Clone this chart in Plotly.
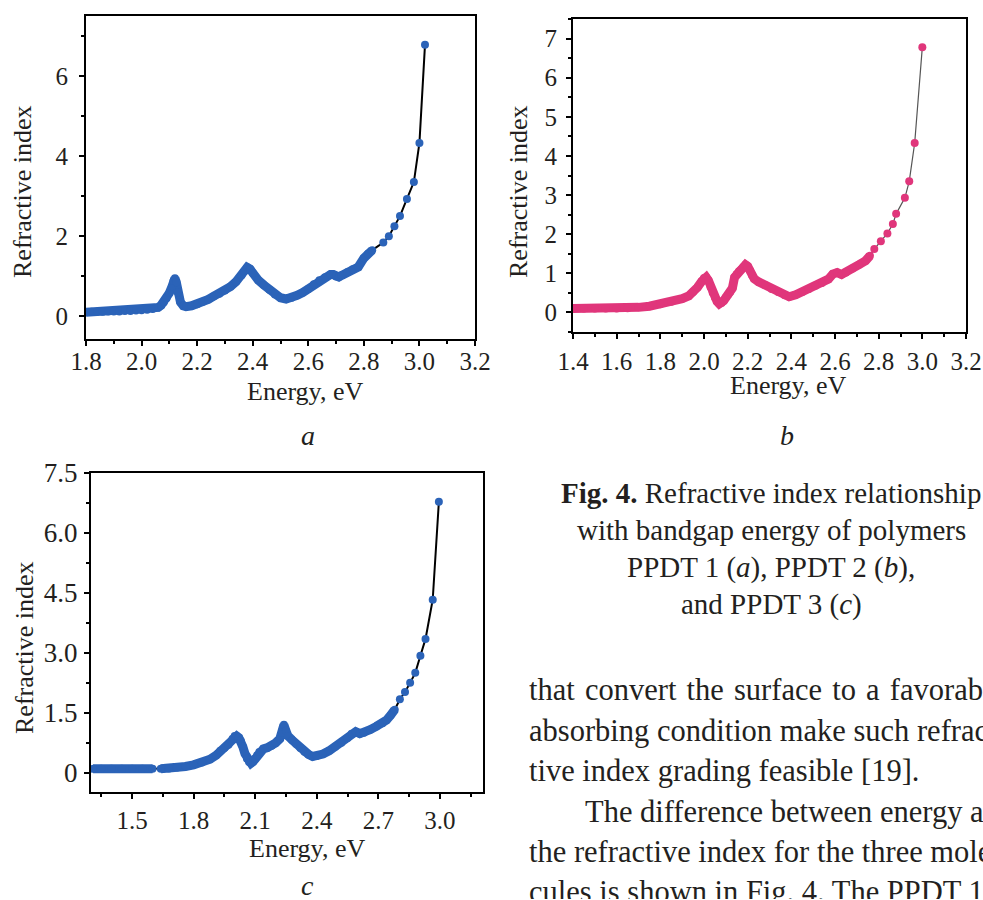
import plotly.graph_objects as go

# ---------------- data ----------------
energy_a = [1.80, 1.82, 1.84, 1.86, 1.88, 1.90, 1.92, 1.94, 1.96, 1.98,
            2.00, 2.02, 2.04, 2.06, 2.07, 2.08, 2.09, 2.10, 2.11, 2.115,
            2.12, 2.125, 2.13, 2.14, 2.15, 2.16, 2.18, 2.20, 2.22, 2.24,
            2.26, 2.28, 2.30, 2.32, 2.34, 2.36, 2.37, 2.38, 2.39, 2.40,
            2.42, 2.44, 2.46, 2.48, 2.50, 2.52, 2.54, 2.56, 2.58, 2.60,
            2.62, 2.64, 2.66, 2.68, 2.69, 2.70, 2.71, 2.72, 2.74, 2.76,
            2.78, 2.80, 2.815, 2.83, 2.87, 2.89, 2.91, 2.93, 2.955, 2.98,
            3.00, 3.02]
index_a = [0.10, 0.11, 0.11, 0.11, 0.12, 0.12, 0.12, 0.13, 0.13, 0.14,
           0.15, 0.16, 0.18, 0.22, 0.27, 0.35, 0.45, 0.58, 0.75, 0.88,
           0.95, 0.85, 0.60, 0.35, 0.26, 0.24, 0.26, 0.30, 0.36, 0.42,
           0.50, 0.56, 0.64, 0.74, 0.86, 1.02, 1.12, 1.22, 1.18, 1.08,
           0.90, 0.78, 0.66, 0.54, 0.46, 0.43, 0.46, 0.52, 0.59, 0.68,
           0.80, 0.90, 0.97, 1.04, 1.04, 0.99, 0.98, 1.02, 1.10, 1.17,
           1.23, 1.45, 1.56, 1.65, 1.84, 2.00, 2.25, 2.50, 2.93, 3.35,
           4.33, 6.78]
band_a = [(1.80, 2.83)]

energy_b = [1.40, 1.45, 1.50, 1.55, 1.60, 1.65, 1.70, 1.75, 1.80, 1.85,
            1.90, 1.93, 1.95, 1.97, 1.99, 2.00, 2.01, 2.02, 2.03, 2.04,
            2.05, 2.06, 2.07, 2.08, 2.09, 2.10, 2.11, 2.12, 2.13, 2.14,
            2.15, 2.16, 2.17, 2.18, 2.19, 2.20, 2.21, 2.22, 2.23, 2.25,
            2.28, 2.31, 2.34, 2.37, 2.39, 2.42, 2.45, 2.48, 2.51, 2.54,
            2.57, 2.59, 2.61, 2.63, 2.65, 2.68, 2.71, 2.74, 2.76, 2.78,
            2.81, 2.84, 2.865, 2.88, 2.92, 2.94, 2.965, 3.00]
index_b = [0.10, 0.10, 0.10, 0.10, 0.10, 0.11, 0.13, 0.16, 0.21, 0.27,
           0.35, 0.42, 0.52, 0.64, 0.80, 0.88, 0.90, 0.82, 0.65, 0.50,
           0.38, 0.28, 0.22, 0.24, 0.30, 0.38, 0.45, 0.52, 0.62, 0.90,
           0.98, 1.05, 1.10, 1.16, 1.22, 1.18, 1.08, 0.95, 0.86, 0.78,
           0.70, 0.60, 0.52, 0.44, 0.40, 0.45, 0.52, 0.60, 0.68, 0.75,
           0.85, 0.98, 1.02, 0.97, 1.02, 1.12, 1.22, 1.32, 1.45, 1.62,
           1.82, 2.02, 2.26, 2.52, 2.93, 3.35, 4.33, 6.78]
band_b = [(1.40, 2.76)]

energy_c = [1.31, 1.35, 1.40, 1.45, 1.50, 1.55, 1.60, 1.64, 1.68, 1.72,
            1.76, 1.80, 1.84, 1.88, 1.91, 1.93, 1.95, 1.97, 1.99, 2.00,
            2.01, 2.02, 2.03, 2.04, 2.05, 2.06, 2.07, 2.08, 2.09, 2.10,
            2.11, 2.12, 2.14, 2.16, 2.18, 2.20, 2.22, 2.23, 2.24, 2.25,
            2.26, 2.28, 2.30, 2.32, 2.34, 2.36, 2.38, 2.40, 2.43, 2.46,
            2.49, 2.52, 2.55, 2.57, 2.59, 2.61, 2.63, 2.66, 2.69, 2.72,
            2.74, 2.76, 2.78, 2.805, 2.83, 2.855, 2.88, 2.905, 2.93, 2.965,
            2.995]
index_c = [0.10, 0.10, 0.10, 0.10, 0.10, 0.10, 0.10, 0.10, 0.11, 0.13,
           0.16, 0.20, 0.26, 0.34, 0.44, 0.55, 0.62, 0.70, 0.85, 0.92,
           0.92, 0.88, 0.80, 0.65, 0.48, 0.35, 0.27, 0.24, 0.28, 0.36,
           0.44, 0.52, 0.60, 0.63, 0.68, 0.75, 0.85, 1.00, 1.20, 1.05,
           0.92, 0.82, 0.72, 0.62, 0.53, 0.46, 0.41, 0.42, 0.47, 0.55,
           0.65, 0.75, 0.87, 0.98, 1.03, 0.98, 1.00, 1.08, 1.16, 1.24,
           1.32, 1.44, 1.58, 1.84, 2.02, 2.25, 2.50, 2.93, 3.35, 4.33,
           6.78]
band_c = [(1.30, 1.60), (1.64, 2.78)]

ticks_c_vals = [0, 1.5, 3.0, 4.5, 6.0, 7.5]
ticks_c_text = ["0", "1.5", "3.0", "4.5", "6.0", "7.5"]

caption_lines = ["<b>Fig. 4.</b> Refractive index relationship",
                 "with bandgap energy of polymers",
                 "PPDT 1 (<i>a</i>), PPDT 2 (<i>b</i>),",
                 "and PPDT 3 (<i>c</i>)"]
body_lines = ["that \u200aconvert \u200athe \u200asurface \u200ato \u200aa \u200afavorable",
              "absorbing condition make such refrac-",
              "tive index grading feasible [19].",
              "The difference between energy and",
              "the refractive index for the three mole-",
              "cules is shown in Fig. 4. The PPDT 1"]
body_indent = [0, 0, 0, 1, 0, 0]

BLUE = "#2B63B8"
PINK = "#E0367B"
INK = "#231F20"
SERIF = "Liberation Serif"
W, H = 983, 900

fig = go.Figure()


def add_panel(E, N, bands, color, xa, ya, line_color, line_width):
    fig.add_trace(go.Scatter(x=E, y=N, mode="lines", xaxis=xa, yaxis=ya,
                             line=dict(color=line_color, width=line_width),
                             hoverinfo="skip", showlegend=False))
    for lo, hi in bands:
        bx = [e for e in E if lo <= e <= hi]
        by = [n for e, n in zip(E, N) if lo <= e <= hi]
        fig.add_trace(go.Scatter(x=bx, y=by, mode="lines", xaxis=xa, yaxis=ya,
                                 line=dict(color=color, width=9),
                                 hoverinfo="skip", showlegend=False))
    fig.add_trace(go.Scatter(x=E, y=N, mode="markers", xaxis=xa, yaxis=ya,
                             marker=dict(color=color, size=8, line=dict(width=0)),
                             showlegend=False))


add_panel(energy_a, index_a, band_a, BLUE, "x", "y", "black", 2)
add_panel(energy_b, index_b, band_b, PINK, "x2", "y2", "#555555", 1.2)
add_panel(energy_c, index_c, band_c, BLUE, "x3", "y3", "black", 2)


def axis(domain, rng, fsize=25, **kw):
    d = dict(domain=domain, range=rng, showline=True, linecolor="black",
             linewidth=2, mirror=True, ticks="outside", ticklen=5,
             tickwidth=2, tickcolor="black", showgrid=False, zeroline=False,
             automargin=False,
             tickfont=dict(family=SERIF, size=fsize, color=INK))
    d.update(kw)
    return d


def minor(dt):
    return dict(dtick=dt, ticks="outside", ticklen=3, tickwidth=2,
                tickcolor="black", showgrid=False)


def px_x(a, b):
    return [a / W, b / W]


def px_y(top, bottom):
    return [1 - bottom / H, 1 - top / H]


fig.update_layout(
    width=W, height=H, autosize=False,
    margin=dict(l=0, r=0, t=0, b=0, pad=0, autoexpand=False),
    paper_bgcolor="white", plot_bgcolor="white", showlegend=False,
    xaxis=axis(px_x(86, 475), [1.8, 3.2], anchor="y", dtick=0.2, tick0=1.8,
               tickformat=".1f", minor=minor(0.1), ticklabelstandoff=-6),
    yaxis=axis(px_y(16, 339), [-0.57, 7.5], anchor="x", dtick=2, tick0=0,
               minor=minor(1), ticklabelstandoff=6),
    xaxis2=axis(px_x(573, 966), [1.4, 3.2], anchor="y2", dtick=0.2, tick0=1.4,
                tickformat=".1f", minor=minor(0.1), ticklabelstandoff=1),
    yaxis2=axis(px_y(19, 332), [-0.5, 7.5], anchor="x2", dtick=1, tick0=0,
                minor=minor(0.5), ticklabelstandoff=4),
    xaxis3=axis(px_x(91, 483), [1.3, 3.21], anchor="y3", dtick=0.3, tick0=1.5,
                tickformat=".1f", minor=minor(0.15), ticklabelstandoff=0),
    yaxis3=axis(px_y(473, 792), [-0.48, 7.5], anchor="x3", fsize=27,
                tickmode="array", tickvals=ticks_c_vals, ticktext=ticks_c_text,
                minor=dict(tickmode="array",
                           tickvals=[0.75, 2.25, 3.75, 5.25, 6.75],
                           ticks="outside", ticklen=3, tickwidth=2,
                           tickcolor="black"),
                ticklabelstandoff=1),
)


def note(text, x, y, size=26, xanchor="center", rot=0, **kw):
    fig.add_annotation(text=text, x=x / W, y=1 - y / H, xref="paper",
                       yref="paper", showarrow=False, xanchor=xanchor,
                       yanchor=kw.pop("yanchor", "middle"), textangle=rot,
                       font=dict(family=SERIF, size=size, color=INK), **kw)


# axis titles
note("Energy, eV", 305, 392)
note("Refractive index", 22, 192, rot=-90)
note("Energy, eV", 788, 385)
note("Refractive index", 518, 192, rot=-90)
note("Energy, eV", 307, 848)
note("Refractive index", 24, 648, rot=-90)

# panel letters
note("<i>a</i>", 308, 435, size=28)
note("<i>b</i>", 787, 435, size=28)
note("<i>c</i>", 307, 885, size=28)

# caption
for i, line in enumerate(caption_lines):
    note(line, 771, 493 + 37 * i, size=29)

# body text (clipped at the right and bottom edges like the page)
BODY = 30.5
for i, line in enumerate(body_lines):
    left = 527 + 56 * body_indent[i]
    yc = 690 + 40.6 * i
    if i < len(body_lines) - 1:
        note(line, left, yc, size=BODY, xanchor="left", align="left",
             width=W - left - 2)
    else:
        note(line, left, yc - 20, size=BODY, xanchor="left", align="left",
             yanchor="top", valign="top", width=W - left - 2,
             height=H - (yc - 20) - 3)

fig.write_html("out.html")
